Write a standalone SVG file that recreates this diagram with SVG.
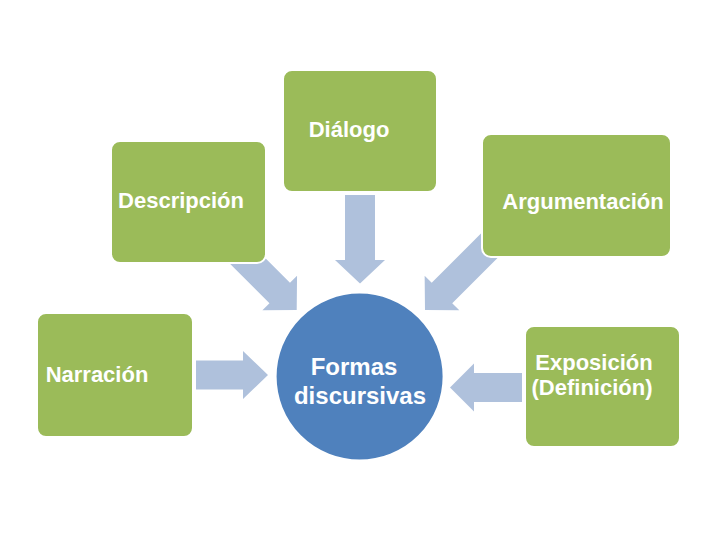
<svg xmlns="http://www.w3.org/2000/svg" width="720" height="540" viewBox="0 0 720 540">
<style>
.box{fill:#9BBB59;stroke:#FFFFFF;stroke-width:2}
.hub{fill:#4F81BD;stroke:#FFFFFF;stroke-width:2}
.arr{fill:#AFC1DC}
.t{fill:#FFFFFF;font-family:"Liberation Sans",Arial,sans-serif;font-weight:bold;font-size:22px;text-anchor:middle}
.th{font-size:24px}
</style>
<defs>
<polygon id="darr" points="0,-14.5 76,-14.5 76,-24.5 100,0 76,24.5 76,14.5 0,14.5"/>
</defs>
<rect width="720" height="540" fill="#FFFFFF"/>
<g id="connectors">
<polygon class="arr" points="196,360.5 243,360.5 243,351 268,375 243,399 243,389.5 196,389.5"/>
<polygon class="arr" points="522,373 474,373 474,363.5 450,387.5 474,411.5 474,402 522,402"/>
<polygon class="arr" points="345,195 375,195 375,260 385,260 360,283.5 335,260 345,260"/>
<use href="#darr" class="arr" transform="translate(296.7,310) rotate(45) translate(-100,0)"/>
<use href="#darr" class="arr" transform="translate(425,310) rotate(135) translate(-100,0)"/>
</g>
<g id="dialogo">
<rect class="box" x="283" y="70" width="154" height="122" rx="9"/>
<text class="t" x="349" y="137">Diálogo</text>
</g>
<g id="descripcion">
<rect class="box" x="111" y="141" width="155" height="122" rx="9"/>
<text class="t" x="181" y="208">Descripción</text>
</g>
<g id="argumentacion">
<rect class="box" x="482" y="134" width="189" height="123" rx="9"/>
<text class="t" x="583" y="209">Argumentación</text>
</g>
<g id="narracion">
<rect class="box" x="37" y="313" width="156" height="124" rx="9"/>
<text class="t" x="97" y="382">Narración</text>
</g>
<g id="exposicion">
<rect class="box" x="525" y="326" width="155" height="121" rx="9"/>
<text class="t" x="594" y="370">Exposición</text>
<text class="t" x="592" y="395">(Definición)</text>
</g>
<g id="formas">
<circle class="hub" cx="359.6" cy="376.6" r="84"/>
<text class="t th" x="354" y="375">Formas</text>
<text class="t th" x="360" y="404">discursivas</text>
</g>
</svg>
